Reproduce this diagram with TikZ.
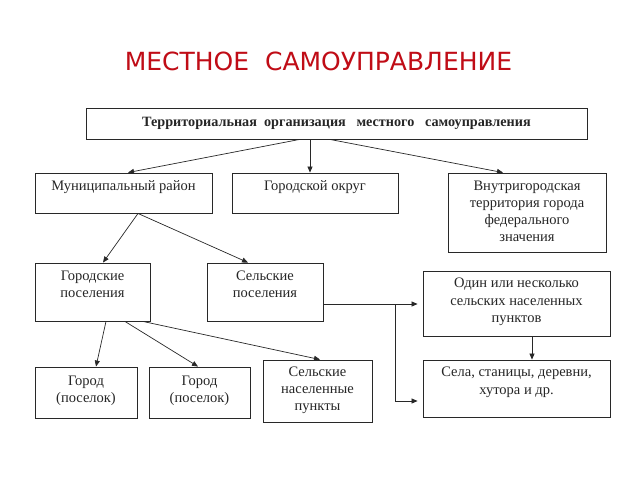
\documentclass[tikz,border=0pt]{standalone}
\usepackage{fontspec}
\setmainfont{Liberation Serif}
\newfontfamily\titlefont{DejaVu Sans}
\usetikzlibrary{arrows.meta}
\definecolor{titlered}{RGB}{192,12,22}
\definecolor{linegray}{RGB}{40,40,40}
\begin{document}
\begin{tikzpicture}[x=1pt,y=-1pt,
  box/.style={draw=linegray, line width=0.9pt, inner sep=0pt, fill=white},
  lbl/.style={font=\fontsize{14.5}{17.2}\selectfont, align=center, inner sep=0pt, text=black!85},
  arr/.style={draw=linegray, line width=0.7pt, -{Triangle[length=6pt,width=5pt]}},
  ln/.style={draw=linegray, line width=0.7pt}]
\useasboundingbox (0,0) rectangle (640,480);
\fill[white] (0,0) rectangle (640,480);

\node[font=\titlefont\fontsize{25}{28}\selectfont, text=titlered] (title) at (318.5,61) {МЕСТНОЕ\ \ САМОУПРАВЛЕНИЕ};

\node[box, minimum width=501pt, minimum height=31pt, font=\bfseries\fontsize{14.2}{16}\selectfont, text=black!85] (top) at (336.5,123.5) {Территориальная\ \ организация\ \ \ местного\ \ \ самоуправления};

\node[box, minimum width=177pt, minimum height=40pt, label={[lbl, below=8pt]north:Муниципальный район}] (mun) at (123.5,193) {};
\node[box, minimum width=166pt, minimum height=40pt, label={[lbl, below=8pt]north:Городской округ}] (gor) at (315,193) {};
\node[box, minimum width=158pt, minimum height=79pt, label={[lbl, below=8pt]north:{Внутригородская\\территория города\\федерального\\значения}}] (vnu) at (527,212.5) {};

\node[box, minimum width=115pt, minimum height=58pt, label={[lbl, below=8pt]north:{Городские\\поселения}}] (gp) at (92.5,292) {};
\node[box, minimum width=116pt, minimum height=58pt, label={[lbl, below=8pt]north:{Сельские\\поселения}}] (sp) at (265,292) {};

\node[box, minimum width=102pt, minimum height=51pt, label={[lbl, below=9pt]north:{Город\\(поселок)}}] (g1) at (86,392.5) {};
\node[box, minimum width=101pt, minimum height=51pt, label={[lbl, below=9pt]north:{Город\\(поселок)}}] (g2) at (199.5,392.5) {};
\node[box, minimum width=109pt, minimum height=62pt, label={[lbl, below=7pt]north:{Сельские\\населенные\\пункты}}] (snp) at (317.5,391) {};

\node[box, minimum width=187pt, minimum height=65pt, label={[lbl, below=7.5pt]north:{Один или несколько\\сельских населенных\\пунктов}}] (odin) at (516.5,303.5) {};
\node[box, minimum width=187pt, minimum height=57pt, label={[lbl, below=7.5pt]north:{Села, станицы, деревни,\\хутора и др.}}] (sela) at (516.5,388.5) {};

% arrows from top box
\draw[arr] ([xshift=-37pt]top.south) -- ([xshift=4.5pt]mun.north);
\draw[arr] ([xshift=-26.5pt]top.south) -- ([xshift=-5pt]gor.north);
\draw[arr] ([xshift=-6.5pt]top.south) -- ([xshift=-24pt]vnu.north);

% from municipal district
\draw[arr] ([xshift=14.5pt]mun.south) -- ([xshift=10.5pt]gp.north);
\draw[arr] ([xshift=14.5pt]mun.south) -- ([xshift=-17pt]sp.north);

% from urban settlements
\draw[arr] ([xshift=13.5pt]gp.south) -- ([xshift=10pt]g1.north);
\draw[arr] ([xshift=32.5pt]gp.south) -- ([xshift=-1.5pt]g2.north);
\draw[arr] ([xshift=50.5pt]gp.south) -- ([xshift=2.5pt]snp.north);

% from rural settlements
\coordinate (br) at (395,304);
\coordinate (bd) at (395,401);
\draw[ln] (sp.east |- br) -- (br);
\draw[arr] (br) -- ([xshift=-5pt]odin.west |- br);
\draw[ln] (br) -- (bd);
\draw[arr] (bd) -- ([xshift=-5pt]sela.west |- bd);

% one or more -> villages
\draw[arr] ([xshift=15.5pt]odin.south) -- ([xshift=15.5pt]sela.north);
\end{tikzpicture}
\end{document}
